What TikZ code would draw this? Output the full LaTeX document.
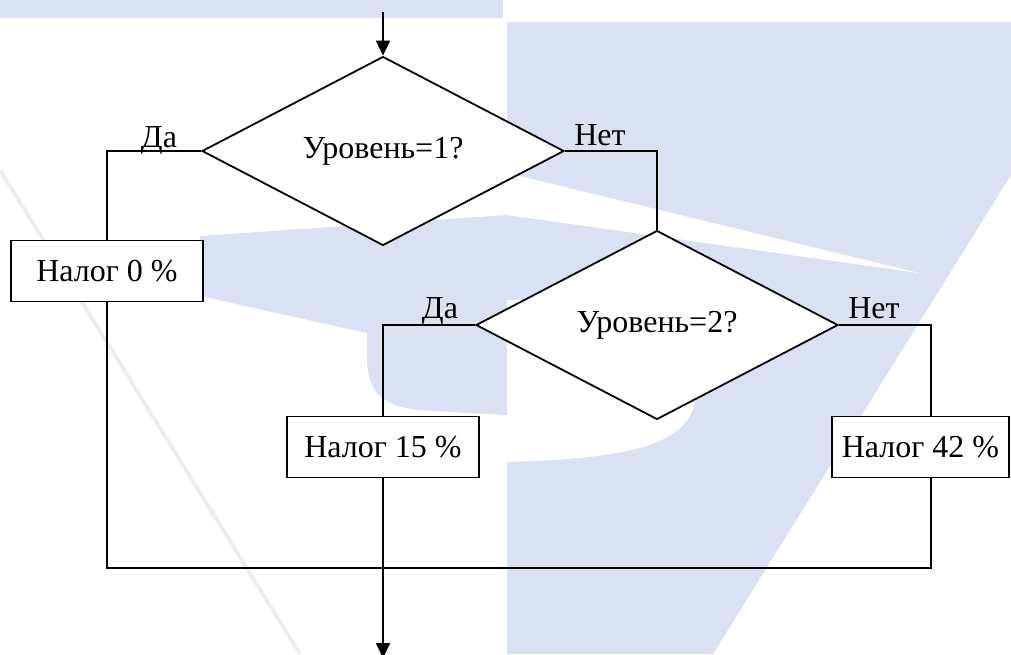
\documentclass[tikz,border=0pt]{standalone}
\usepackage{fontspec}
\setmainfont{Liberation Serif}
\usepackage{tikz}
\usetikzlibrary{arrows.meta,shapes.geometric}
\definecolor{wmblue}{RGB}{218,225,242}
\tikzset{
  cond/.style  ={diamond,draw,fill=white,inner sep=0pt,line width=0.9pt,
                 minimum width=181pt,minimum height=83pt},
  act/.style   ={rectangle,draw,fill=white,inner sep=0pt,line width=0.9pt,
                 minimum width=96pt,minimum height=30.5pt},
  wire/.style  ={line width=0.9pt},
  flow/.style  ={wire,-{Triangle[length=7.5pt,width=7pt]}},
  ans/.style   ={anchor=base,inner sep=0pt},
}

\begin{document}
\begin{tikzpicture}[x=0.5pt,y=-0.5pt,font=\fontsize{16}{19}\selectfont]
  \useasboundingbox (0,0) rectangle (1011,654);
  % faint logo behind the chart
  \fill[wmblue] (0,0) rectangle (503,18);
  \fill[wmblue] (507,22) -- (1011,22) -- (1011,175) -- (713,654) -- (507,654) -- cycle;
  \fill[white] (507,173) -- (919,273) -- (507,215) -- cycle;
  \fill[wmblue] (200,236) -- (507,215) -- (507,415) -- (417,410)
    .. controls (380,405) and (368,390) .. (367,360) -- (367,333) -- (200,296) -- cycle;
  \fill[white] (507,300) -- (697,300) -- (697,385)
    .. controls (697,440) and (650,458) .. (507,462) -- cycle;
  \draw[black!7,line width=2pt] (0,170) -- (300,654);

  \node[cond] (d1) at (383,151) {Уровень=1?};
  \node[cond] (d2) at (657,325) {Уровень=2?};
  \node[act] (b1) at (107,271) {Налог 0 \%};
  \node[act] (b2) at (383,447) {Налог 15 \%};
  \node[act,minimum width=88.5pt] (b3) at (920.5,447) {Налог 42 \%};
  \coordinate (in) at (383,12);
  \coordinate (out) at (383,658);
  \coordinate (bot) at (383,568);

  \draw[flow] (in) -- (d1.north);
  \draw[wire] (d1.west) -| (b1.north);
  \draw[wire] (d1.east) -| (d2.north);
  \draw[wire] (d2.west) -| (b2.north);
  \draw[wire] (d2.east) -| ([xshift=5.25pt]b3.north);
  \draw[wire] (b1.south) |- (bot) -| ([xshift=5.25pt]b3.south);
  \draw[flow] (b2.south) -- (out);

  \node[ans] (da1)  at (159,147) {Да};
  \node[ans] (net1) at (600,145) {Нет};
  \node[ans] (da2)  at (440,318) {Да};
  \node[ans] (net2) at (874,318) {Нет};
\end{tikzpicture}
\end{document}
